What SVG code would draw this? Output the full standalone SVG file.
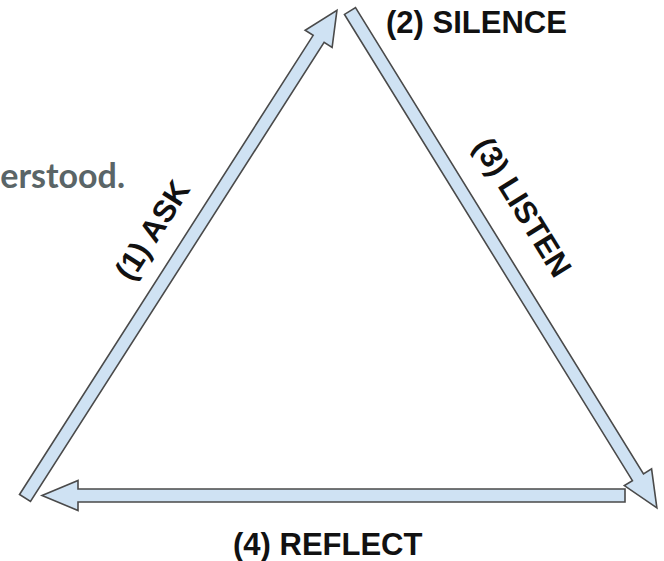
<svg xmlns="http://www.w3.org/2000/svg" width="664" height="561" viewBox="0 0 664 561">
<style>
.arrow{fill:#cfe2f3;stroke:#4a4a4a;stroke-width:1.6;stroke-linejoin:miter}
.lbl{font-family:"Liberation Sans",Arial,sans-serif;font-weight:bold;font-size:31px;fill:#111}
.para{font-family:Lato,"Open Sans",sans-serif;font-weight:bold;font-size:34px;fill:#5a6567}
</style>
<rect width="664" height="561" fill="#fff"/>
<text class="para" x="125" y="188" text-anchor="end">erstood.</text>
<g id="connectors">
<g id="ask-arrow" transform="translate(25,498) rotate(-57.4)">
<polygon class="arrow" points="0,-6.5 545,-6.5 545,-16 579,0 545,16 545,6.5 0,6.5"/>
</g>
<g id="listen-arrow" transform="translate(350,11) rotate(58.3)">
<polygon class="arrow" points="0,-6.5 548,-6.5 548,-16 584,0 548,16 548,6.5 0,6.5"/>
</g>
<g id="reflect-arrow" transform="translate(625,495.5) rotate(180)">
<polygon class="arrow" points="0,-6.5 547,-6.5 547,-15 583,0 547,15 547,6.5 0,6.5"/>
</g>
</g>
<g id="ask"><text class="lbl" transform="translate(152,230) rotate(-57.4)" x="0" y="11" text-anchor="middle" font-size="30">(1) ASK</text></g>
<g id="silence"><text class="lbl" x="386" y="33">(2) SILENCE</text></g>
<g id="listen"><text class="lbl" transform="translate(523,207) rotate(58.3)" x="0" y="11" text-anchor="middle" font-size="30">(3) LISTEN</text></g>
<g id="reflect"><text class="lbl" x="233" y="555" font-size="30">(4) REFLECT</text></g>
</svg>
